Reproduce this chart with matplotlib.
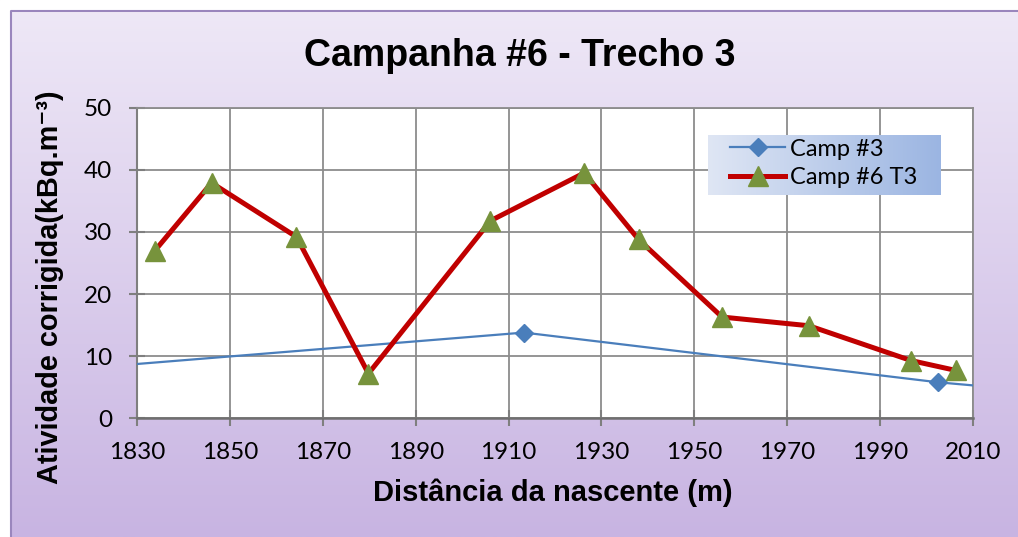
import numpy as np
import matplotlib.pyplot as plt
from matplotlib.patches import Rectangle
from matplotlib.colors import LinearSegmentedColormap

# -----------------------------
# Data
# -----------------------------
camp6_x = [1833.8, 1846, 1864.3, 1879.8, 1906.1, 1926.3, 1938, 1956, 1974.7, 1996.7, 2006.4]
camp6_y = [27.0, 37.9, 29.2, 7.2, 31.8, 39.5, 28.8, 16.3, 14.9, 9.3, 7.7]

# Camp #3 has points outside the visible x range (line runs off both edges)
camp3_x = [1760, 1913.3, 2002.5, 2040]
camp3_y = [4.5, 13.8, 5.8, 3.3]

xticks = [1830, 1850, 1870, 1890, 1910, 1930, 1950, 1970, 1990, 2010]
yticks = [0, 10, 20, 30, 40, 50]

TITLE = "Campanha #6 - Trecho 3"
XLABEL = "Distância da nascente (m)"
YLABEL = "Atividade corrigida(kBq.m⁻³)"

BOLD_FONTS = ["Liberation Sans", "DejaVu Sans"]

W, H = 1018, 537
fig = plt.figure(figsize=(W / 100, H / 100), dpi=100)

# -----------------------------
# Chart-area gradient background + border (left/top only visible)
# -----------------------------
bg = fig.add_axes([0, 0, 1, 1], zorder=0)
bg_cmap = LinearSegmentedColormap.from_list("bg", ["#efe9f7", "#c8b4e2"])
bg.imshow(np.linspace(0, 1, 256).reshape(-1, 1), aspect="auto", cmap=bg_cmap,
          extent=[0, W, H, 0])
bg.add_patch(Rectangle((0, 0), 10.5, H, color="white", zorder=2))
bg.add_patch(Rectangle((0, 0), W, 10.5, color="white", zorder=2))
bg.plot([11, 11, W], [H, 11, 11], color="#9a86bd", lw=1.5, zorder=3)
bg.set_xlim(0, W)
bg.set_ylim(H, 0)
bg.axis("off")

# -----------------------------
# Plot area
# -----------------------------
ax = fig.add_axes([137.3 / W, 1 - 418.3 / H, (972.7 - 137.3) / W, (418.3 - 107.7) / H], zorder=1)
ax.set_facecolor("white")

ax.plot(camp3_x, camp3_y, color="#4a7ebb", lw=1.6, marker="D", markersize=9,
        markerfacecolor="#4a7ebb", markeredgecolor="#4a7ebb", label="Camp #3", zorder=3)
ax.plot(camp6_x, camp6_y, color="#c00000", lw=3.6, marker="^", markersize=14,
        markerfacecolor="#77933c", markeredgecolor="#77933c", label="Camp #6 T3", zorder=4)

ax.set_xlim(1830, 2010)
ax.set_ylim(0, 50)
ax.set_xticks(xticks)
ax.set_yticks(yticks)
ax.set_xticklabels([str(t) for t in xticks], fontsize=17.5, family="Lato")
ax.set_yticklabels([str(t) for t in yticks], fontsize=17.5, family="Lato")
ax.tick_params(axis="both", direction="inout", length=12, width=1.5, color="#7f7f7f")
ax.tick_params(axis="x", pad=11)
ax.tick_params(axis="y", pad=12)

ax.grid(True, color="#8c8c8c", lw=1.3)
ax.set_axisbelow(True)
for sp in ax.spines.values():
    sp.set_color("#8c8c8c")
    sp.set_linewidth(1.3)
ax.spines["bottom"].set_color("#6f6f6f")
ax.spines["bottom"].set_linewidth(1.8)
ax.spines["left"].set_color("#7f7f7f")
ax.spines["left"].set_linewidth(1.5)

# legend with gradient box
ax_w_px, ax_h_px = 835.4, 310.6
lx0, lx1 = (708 - 137.3) / ax_w_px, (940 - 137.3) / ax_w_px
ly0, ly1 = (418.3 - 195) / ax_h_px, (418.3 - 135) / ax_h_px
leg_cmap = LinearSegmentedColormap.from_list("leg", ["#dfe6f4", "#9bb5e2"])
ax.imshow(np.linspace(0, 1, 256).reshape(1, -1), aspect="auto", cmap=leg_cmap,
          extent=[lx0, lx1, ly0, ly1], transform=ax.transAxes, zorder=5)
ax.set_xlim(1830, 2010)
ax.set_ylim(0, 50)
leg = ax.legend(loc="center left",
                bbox_to_anchor=(lx0 + 22 / ax_w_px, (ly0 + ly1) / 2 + 0.005),
                frameon=False, prop={"family": "Lato", "size": 17},
                handlelength=2.35, handletextpad=0.2, labelspacing=0.33,
                borderpad=0, borderaxespad=0)
leg.set_zorder(6)

# -----------------------------
# Texts
# -----------------------------
fig.text(520 / W, 1 - 56 / H, TITLE, ha="center", va="center", fontsize=27,
         fontweight="bold", family=BOLD_FONTS)
fig.text(553 / W, 1 - 493 / H, XLABEL, ha="center", va="center", fontsize=21,
         fontweight="bold", family=BOLD_FONTS)
fig.text(50 / W, 1 - 287 / H, YLABEL, ha="center", va="center", rotation=90,
         fontsize=20.8, fontweight="bold", family=BOLD_FONTS)

fig.savefig("out.png", dpi=100)
plt.close(fig)
